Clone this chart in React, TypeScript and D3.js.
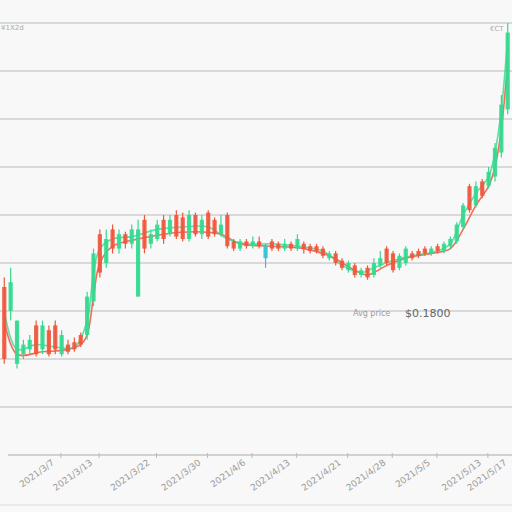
import React from "react";
import * as d3 from "d3";

const W = 512;
const H = 512;

// candle data (values)
const opens = [35, 30, 19, 21, 22, 27, 22, 26, 27, 21, 23, 23.5, 25, 25, 32, 46, 40, 47, 43, 46, 44, 33, 49, 44, 45, 49, 46, 50, 49.5, 45, 50, 46, 50.5, 49, 46, 50, 44.5, 43, 44.5, 43.5, 44.5, 41, 44.5, 44, 43, 44, 43, 44, 43.5, 43.5, 43, 41, 42, 40.5, 38.5, 39.5, 37.5, 39, 37.5, 39.5, 43, 42, 39, 40, 42, 42.5, 43, 42, 43.5, 42.5, 43.5, 44.5, 47.5, 56, 52, 57, 56, 58, 63, 72];
const closes = [20, 36, 28, 23, 24, 21, 27, 21, 22, 25, 21.5, 22, 23, 33, 42, 38, 45, 43, 46, 44, 47, 47, 43, 46, 48, 45, 49, 45.5, 45, 50, 46, 49, 45.5, 46, 48, 43.5, 43, 44.5, 43.5, 44.5, 43.5, 43.5, 43, 43, 44, 43, 45, 43, 42.5, 42.5, 41.5, 42, 40, 39, 40, 37.5, 38.5, 37, 40, 41, 40, 38.5, 41.5, 43, 41, 41.5, 42, 43, 42.5, 44, 45, 48, 52, 51, 56, 54, 59, 64, 73, 88];
const highs = [37, 39, 28, 24, 25, 28, 28, 27, 28, 26, 24, 24.5, 25.5, 34, 43, 47, 47, 48, 47, 46.5, 48, 49, 50, 47, 49, 50, 50, 51, 50.5, 51, 50.5, 50, 51, 49.5, 50, 50.5, 45, 45, 45, 45.5, 45.5, 44, 45, 44.5, 45, 44.5, 46, 44.5, 44, 44, 43.5, 42.5, 42.5, 41, 40.5, 40, 39, 39.5, 41, 42.5, 43.5, 42.5, 42, 43.5, 42.5, 43, 43.5, 43.5, 44, 44.5, 45.5, 48.5, 52.5, 56.5, 57, 57.5, 60, 65, 75, 90];
const lows = [19, 28, 18, 20, 21, 20.5, 21, 20.5, 21, 20.5, 21, 21.5, 22.5, 24, 31, 37, 39, 42, 42, 43, 43, 33, 42, 43, 44.5, 44, 45.5, 45, 44.5, 44.5, 45.5, 45, 45, 45.5, 45.5, 43, 42.5, 42.5, 43, 43, 43, 39, 42.5, 42.5, 42.5, 42.5, 42.5, 42, 42, 42, 41, 40.5, 39.5, 38.5, 38, 37, 37, 36.5, 37, 39, 39.5, 38, 38.5, 39.5, 40.5, 41, 41.5, 41.5, 42, 42, 43, 44, 47, 50.5, 51.5, 53.5, 55.5, 57, 62, 71];

// overlay lines (index, value)
const fastIdx = [0, 2, 5, 8, 11, 13, 14, 15, 17, 20, 24, 28, 32, 35, 38, 42, 46, 50, 53, 56, 58, 61, 64, 68, 70, 72, 74, 76, 77, 78, 79];
const fastVal = [30, 22, 23, 22.5, 22.5, 28, 38, 43, 45, 45.5, 47, 47.5, 47.5, 45, 44, 44, 43.5, 42.5, 39.5, 38, 39, 40.5, 41.5, 42.5, 44, 50, 54.5, 58, 63, 72, 87];
const slowIdx = [0, 2, 6, 10, 12, 13, 14, 15, 17, 21, 25, 30, 34, 37, 42, 47, 51, 55, 57, 60, 63, 67, 70, 72, 74, 76, 77, 78, 79];
const slowVal = [28, 21, 21.5, 22, 23, 25, 33, 40, 43.5, 45, 46, 46.5, 46, 44, 43.5, 43, 41.5, 38.5, 37.5, 39.5, 41, 42, 43, 47, 52, 56, 60, 68, 82];

const yTicks = [0, 10, 20, 30, 40, 50, 60, 70, 80, 90];
const xTickIdx = [7, 13, 22, 30, 37, 44, 52, 59, 66, 74, 78];
const xTickLabels = ["2021/3/7", "2021/3/13", "2021/3/22", "2021/3/30", "2021/4/6", "2021/4/13", "2021/4/21", "2021/4/28", "2021/5/5", "2021/5/13", "2021/5/17"];

const GREEN = "#34d98f";
const RED = "#f0573d";
const CYAN = "#2ec4d6";

export default function App() {
  const idx = d3.range(opens.length);
  const x = d3.scaleBand<number>().domain(idx).range([0, W]).padding(0.34);
  const y = d3.scaleLinear().domain([0, 90]).range([455, 23]);
  const cx = (i: number) => (x(i) as number) + x.bandwidth() / 2;

  const line = d3
    .line<[number, number]>()
    .x((d) => cx(d[0]))
    .y((d) => y(d[1]))
    .curve(d3.curveCatmullRom);

  const fast = fastIdx.map((v, i) => [v, fastVal[i]] as [number, number]);
  const slow = slowIdx.map((v, i) => [v, slowVal[i]] as [number, number]);

  return (
    <svg
      width={W}
      height={H}
      style={{ position: "absolute", left: 0, top: 0, background: "#f8f8f8" }}
      fontFamily="DejaVu Sans, sans-serif"
    >
      <rect x={0} y={0} width={W} height={H} fill="#f8f8f8" />
      {yTicks.slice(1).map((t) => (
        <line key={t} x1={0} x2={W} y1={y(t)} y2={y(t)} stroke="#cfcfcf" strokeWidth={1.4} />
      ))}
      <line x1={8} x2={W} y1={y(0)} y2={y(0)} stroke="#c4c4c4" strokeWidth={1.4} />
      <line x1={0} x2={W} y1={505} y2={505} stroke="#e6e6e6" strokeWidth={1.5} />
      {xTickIdx.map((t, i) => (
        <g key={t}>
          <line x1={cx(t) + 12} x2={cx(t) + 12} y1={y(0) - 2} y2={y(0) + 3} stroke="#bbb" />
          <text
            transform={`translate(${cx(t) + 6},${y(0) + 9}) rotate(-36)`}
            textAnchor="end"
            fontSize={9}
            fill="#9a9a9a"
          >
            {xTickLabels[i]}
          </text>
        </g>
      ))}
      <text x={1} y={30} fontSize={7} fill="#aaa">¥1X2d</text>
      <text x={490} y={31} fontSize={7} fill="#aaa">€CT</text>
      <text x={353} y={316} fontSize={8} fill="#9a9a9a">Avg price</text>
      <text x={405} y={317} fontSize={11} fill="#666">$0.1800</text>

      <path d={line(slow) || ""} fill="none" stroke={RED} strokeWidth={1.6} opacity={0.85} />
      <path d={line(fast) || ""} fill="none" stroke={GREEN} strokeWidth={1.6} opacity={0.8} />

      {idx.map((i) => {
        const o = opens[i];
        const c = closes[i];
        const col = i === 41 ? CYAN : c >= o ? GREEN : RED;
        const top = y(Math.max(o, c));
        const bot = y(Math.min(o, c));
        return (
          <g key={i}>
            <line x1={cx(i)} x2={cx(i)} y1={y(highs[i])} y2={y(lows[i])} stroke={col} strokeWidth={1.2} />
            <rect
              x={x(i)}
              y={top}
              width={x.bandwidth()}
              height={Math.max(1.5, bot - top)}
              fill={col}
              opacity={0.92}
            />
          </g>
        );
      })}
    </svg>
  );
}
